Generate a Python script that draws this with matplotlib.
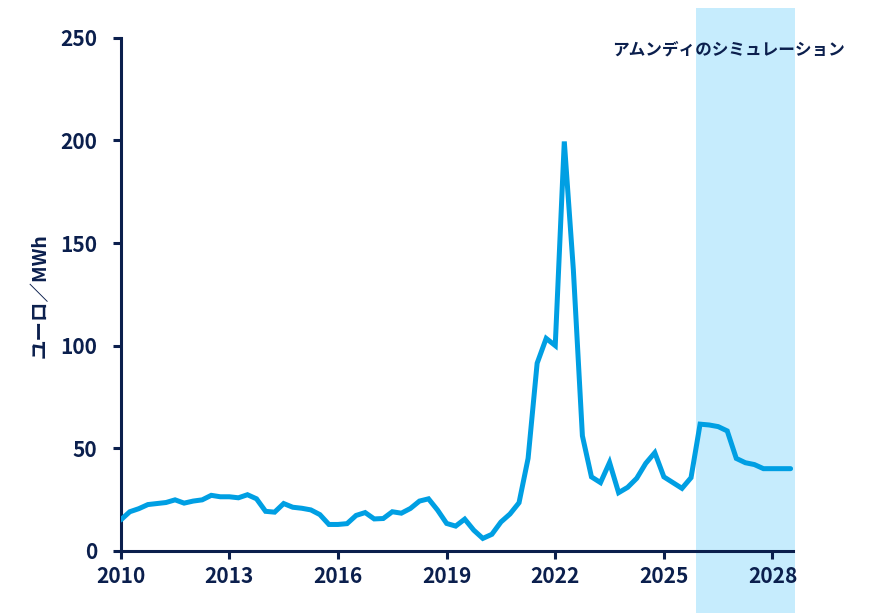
import numpy as np
import matplotlib
matplotlib.use("Agg")
import matplotlib.pyplot as plt

plt.rcParams['font.family'] = ['Noto Sans CJK JP', 'DejaVu Sans']

NAVY = '#0B1F4D'
LINE_BLUE = '#009FE3'
SHADE = '#C6ECFD'

# quarterly electricity price, EUR/MWh (2010 Q1 .. 2028 Q3)
prices = [
    15.0, 19.0, 20.5, 22.5, 23.0, 23.5, 24.8, 23.2,
    24.2, 24.8, 27.0, 26.3, 26.3, 25.8, 27.3, 25.3,
    19.2, 18.8, 23.0, 21.2, 20.7, 19.9, 17.6, 12.8,
    12.8, 13.2, 17.2, 18.6, 15.5, 15.7, 19.0, 18.3,
    20.6, 24.2, 25.3, 19.8, 13.3, 12.0, 15.4, 10.0,
    6.0, 8.0, 14.0, 17.9, 23.4, 45.0, 91.4, 103.5,
    100.0, 199.5, 137.0, 56.0, 36.0, 33.2, 43.0, 28.3,
    30.9, 35.3, 42.6, 47.8, 36.0, 33.2, 30.4, 35.6,
    61.7, 61.3, 60.5, 58.4, 45.0, 42.9, 42.0, 40.0,
    40.0, 40.0, 40.0,
]
start_year = 2010
sim_start, sim_end = 2025.88, 2028.63
year_ticks = [2010, 2013, 2016, 2019, 2022, 2025, 2028]
value_ticks = [0, 50, 100, 150, 200, 250]

t = start_year + np.arange(len(prices)) / 4

fig = plt.figure(figsize=(8.73, 6.13), dpi=100)
ax = fig.add_axes([0.1383, 0.1016, 0.7698, 0.8366])

# simulation period band, running past the axes to the figure edge
ax.axvspan(sim_start, sim_end, ymin=-0.1215, ymax=1.0583, color=SHADE,
           lw=0, zorder=0, clip_on=False)

ax.plot(t, prices, color=LINE_BLUE, lw=3.6, solid_joinstyle='miter',
        solid_capstyle='round', zorder=3)

ax.set_xlim(2010, 2028.56)
ax.set_ylim(0, 250)
ax.set_xticks(year_ticks)
ax.set_yticks(value_ticks)

for s in ['top', 'right']:
    ax.spines[s].set_visible(False)
for s in ['left', 'bottom']:
    ax.spines[s].set_color(NAVY)
    ax.spines[s].set_linewidth(2.2)

ax.tick_params(axis='both', colors=NAVY, length=6, width=2.2,
               labelsize=15)
ax.tick_params(axis='y', pad=11)
ax.tick_params(axis='x', pad=5)
for lbl in ax.get_xticklabels() + ax.get_yticklabels():
    lbl.set_fontweight('bold')

fig.text(40 / 873, 1 - 296 / 613, 'ユーロ／MWh', rotation=90, ha='center',
         va='center', fontsize=14, fontweight='bold', color=NAVY)
fig.text(845 / 873, 1 - 50 / 613, 'アムンディのシミュレーション', ha='right',
         va='center', fontsize=12, fontweight='bold', color=NAVY)

fig.savefig('out.png', dpi=100)
